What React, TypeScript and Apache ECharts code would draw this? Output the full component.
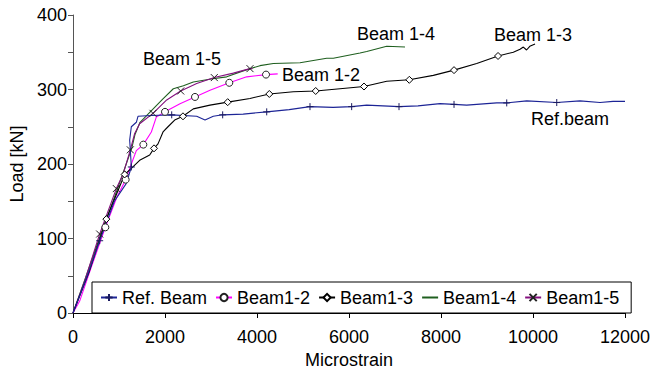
import React, { useEffect, useRef } from "react";
import * as echarts from "echarts";

// [microstrain, load kN, marker flag]
const refBeam: number[][] = [
  [0, 0, 0], [300, 48, 0], [580, 97, 1], [900, 150, 0], [1160, 174, 0], [1268, 196, 1],
  [1250, 215, 0], [1232, 232, 0], [1268, 250, 0], [1377, 256, 0], [1413, 264, 0],
  [1700, 265, 0], [2146, 266, 1], [2689, 264, 0], [2870, 259, 0], [3050, 264, 0],
  [3254, 266, 1], [3700, 267, 0], [4211, 270, 1], [4700, 273, 0], [5152, 277, 1],
  [5653, 276, 0], [6058, 277, 1], [6385, 279, 0], [7087, 277, 1], [7500, 278, 0],
  [7978, 281, 0], [8283, 280, 1], [8559, 279, 0], [9211, 282, 0], [9429, 282, 1],
  [9864, 284.7, 0], [10516, 282.5, 1], [11022, 284.7, 0], [11457, 282.5, 0],
  [11740, 284, 0], [12000, 284, 0],
];

const beam12: number[][] = [
  [0, 0, 0], [145, 16, 0], [400, 62, 0], [703, 115, 1], [950, 155, 0], [1145, 179, 1],
  [1268, 200, 0], [1377, 218, 0], [1529, 226, 1], [1703, 243, 0], [1811, 263, 0],
  [2000, 270, 1], [2326, 281, 0], [2652, 290, 1], [2978, 299, 0], [3398, 309, 1],
  [3776, 317, 0], [4196, 320, 1], [4450, 321, 0],
];

const beam13: number[][] = [
  [0, 0, 0], [350, 55, 0], [725, 126, 1], [950, 160, 0], [1123, 186, 1], [1268, 194, 0],
  [1449, 205, 0], [1667, 212, 0], [1761, 221, 1], [1848, 227, 0], [1957, 243, 0],
  [2065, 250, 0], [2210, 259, 0], [2391, 264, 1], [2615, 274, 0], [2978, 279, 0],
  [3363, 283, 1], [3848, 288, 0], [4268, 294, 1], [4790, 297, 0], [5276, 298, 1],
  [5805, 301, 0], [6326, 304, 1], [6820, 311, 0], [7311, 313, 1], [7833, 319, 0],
  [8283, 326, 1], [8776, 335, 0], [9240, 345, 1], [9572, 350, 0], [9718, 354, 0],
  [9790, 357, 0], [9860, 353, 0], [9930, 358, 0], [10044, 361, 0],
];

const beam14: number[][] = [
  [0, 0, 0], [300, 52, 0], [600, 105, 0], [900, 155, 0], [1100, 190, 0], [1276, 221, 0],
  [1350, 240, 0], [1457, 256, 0], [1711, 272, 0], [1950, 287, 0], [2181, 301, 0],
  [2400, 305, 0], [2615, 310, 0], [3000, 314, 0], [3341, 317, 0], [3700, 325, 0],
  [4065, 332, 0], [4355, 335, 0], [4935, 336, 0], [5515, 342, 0], [5659, 342, 0],
  [6239, 349, 0], [6385, 351, 0], [6820, 358, 0], [7218, 357, 0],
];

const beam15: number[][] = [
  [0, 0, 0], [254, 43, 0], [580, 106, 1], [942, 167, 1], [1094, 187, 0], [1246, 219, 1],
  [1341, 241, 0], [1449, 254, 0], [1739, 268, 1], [2037, 286, 0], [2341, 298, 1],
  [2689, 308, 0], [3072, 316, 1], [3485, 322, 0], [3848, 328, 1], [3900, 328, 0],
];

const seriesNames = ["Ref. Beam", "Beam1-2", "Beam1-3", "Beam1-4", "Beam1-5"];
const xTicks = { min: 0, max: 12000, interval: 2000 };
const yTicks = { min: 0, max: 400, interval: 50, labelStep: 100 };

const annotations = [
  { text: "Beam 1-5", x: 182, y: 59 },
  { text: "Beam 1-2", x: 321, y: 75 },
  { text: "Beam 1-4", x: 396, y: 34 },
  { text: "Beam 1-3", x: 533, y: 35 },
  { text: "Ref.beam", x: 570, y: 119 },
];

const FONT = "Liberation Sans";

function toData(arr: number[][]) {
  return arr.map((p) =>
    p[2] ? { value: [p[0], p[1]] } : { value: [p[0], p[1]], symbol: "none" }
  );
}

export default function App() {
  const ref = useRef<HTMLDivElement>(null);
  useEffect(() => {
    if (!ref.current) return;
    const chart = echarts.init(ref.current, undefined, { renderer: "svg" });
    const mk = (
      name: string,
      arr: number[][],
      color: string,
      symbol: string,
      markColor: string,
      fill: string
    ) => ({
      name,
      type: "line",
      data: toData(arr),
      symbol,
      symbolSize: 7,
      showSymbol: symbol !== "none",
      showAllSymbol: true,
      lineStyle: { color, width: 1.1 },
      itemStyle: { color: fill, borderColor: markColor, borderWidth: 1 },
      emphasis: { disabled: true },
    });
    const option: any = {
      animation: false,
      textStyle: { fontFamily: FONT },
      grid: { left: 73, right: 27, top: 15, bottom: 56, outerBoundsMode: "none", containLabel: false },
      xAxis: {
        type: "value",
        min: xTicks.min,
        max: xTicks.max,
        interval: xTicks.interval,
        name: "Microstrain",
        nameLocation: "middle",
        nameGap: 32,
        nameTextStyle: { fontSize: 18, color: "#000", fontFamily: FONT },
        axisLine: { show: true, lineStyle: { color: "#000", width: 1 } },
        axisTick: { show: true, length: 5, lineStyle: { color: "#000" } },
        splitLine: { show: false },
        axisLabel: {
          fontSize: 18,
          color: "#000",
          margin: 15,
          fontFamily: FONT,
          formatter: (v: number) => String(v),
        },
      },
      yAxis: {
        type: "value",
        min: yTicks.min,
        max: yTicks.max,
        interval: yTicks.interval,
        name: "Load [kN]",
        nameLocation: "middle",
        nameGap: 46,
        nameTextStyle: { fontSize: 18, color: "#000", fontFamily: FONT },
        axisLine: { show: true, lineStyle: { color: "#555", width: 1 } },
        axisTick: { show: true, length: 5, lineStyle: { color: "#555" } },
        splitLine: { show: false },
        axisLabel: {
          fontSize: 18,
          color: "#000",
          margin: 6,
          fontFamily: FONT,
          formatter: (v: number) => (v % yTicks.labelStep === 0 ? String(v) : ""),
        },
      },
      legend: {
        data: seriesNames.map((n) =>
          n === "Beam1-4" ? { name: n, itemStyle: { opacity: 0 } } : { name: n }
        ),
        left: 92,
        top: 282,
        itemWidth: 16,
        itemHeight: 9,
        itemGap: 8,
        padding: [5, 12, 5, 8],
        borderColor: "#000",
        borderWidth: 1,
        backgroundColor: "#fff",
        z: 10,
        textStyle: { fontSize: 18, color: "#000", lineHeight: 21, fontFamily: FONT },
      },
      graphic: annotations.map((a) => ({
        type: "text",
        x: a.x,
        y: a.y,
        style: {
          text: a.text,
          fontSize: 18,
          fontFamily: FONT,
          fill: "#000",
          align: "center",
          verticalAlign: "middle",
        },
      })),
      series: [
        mk(seriesNames[3], beam14, "#1f5f1f", "none", "#1f5f1f", "#1f5f1f"),
        mk(seriesNames[4], beam15, "#84107f", "path://M0,0L10,10M0,10L10,0", "#222", "transparent"),
        mk(seriesNames[1], beam12, "#ff00ff", "circle", "#222", "#fff"),
        mk(seriesNames[2], beam13, "#000", "diamond", "#000", "#fff"),
        mk(seriesNames[0], refBeam, "#1c2496", "path://M0,5L10,5M5,0L5,10", "#1a1a60", "transparent"),
      ],
    };
    chart.setOption(option);
    return () => chart.dispose();
  }, []);
  return <div ref={ref} style={{ width: 652, height: 369, position: "absolute", left: 0, top: 0 }} />;
}
